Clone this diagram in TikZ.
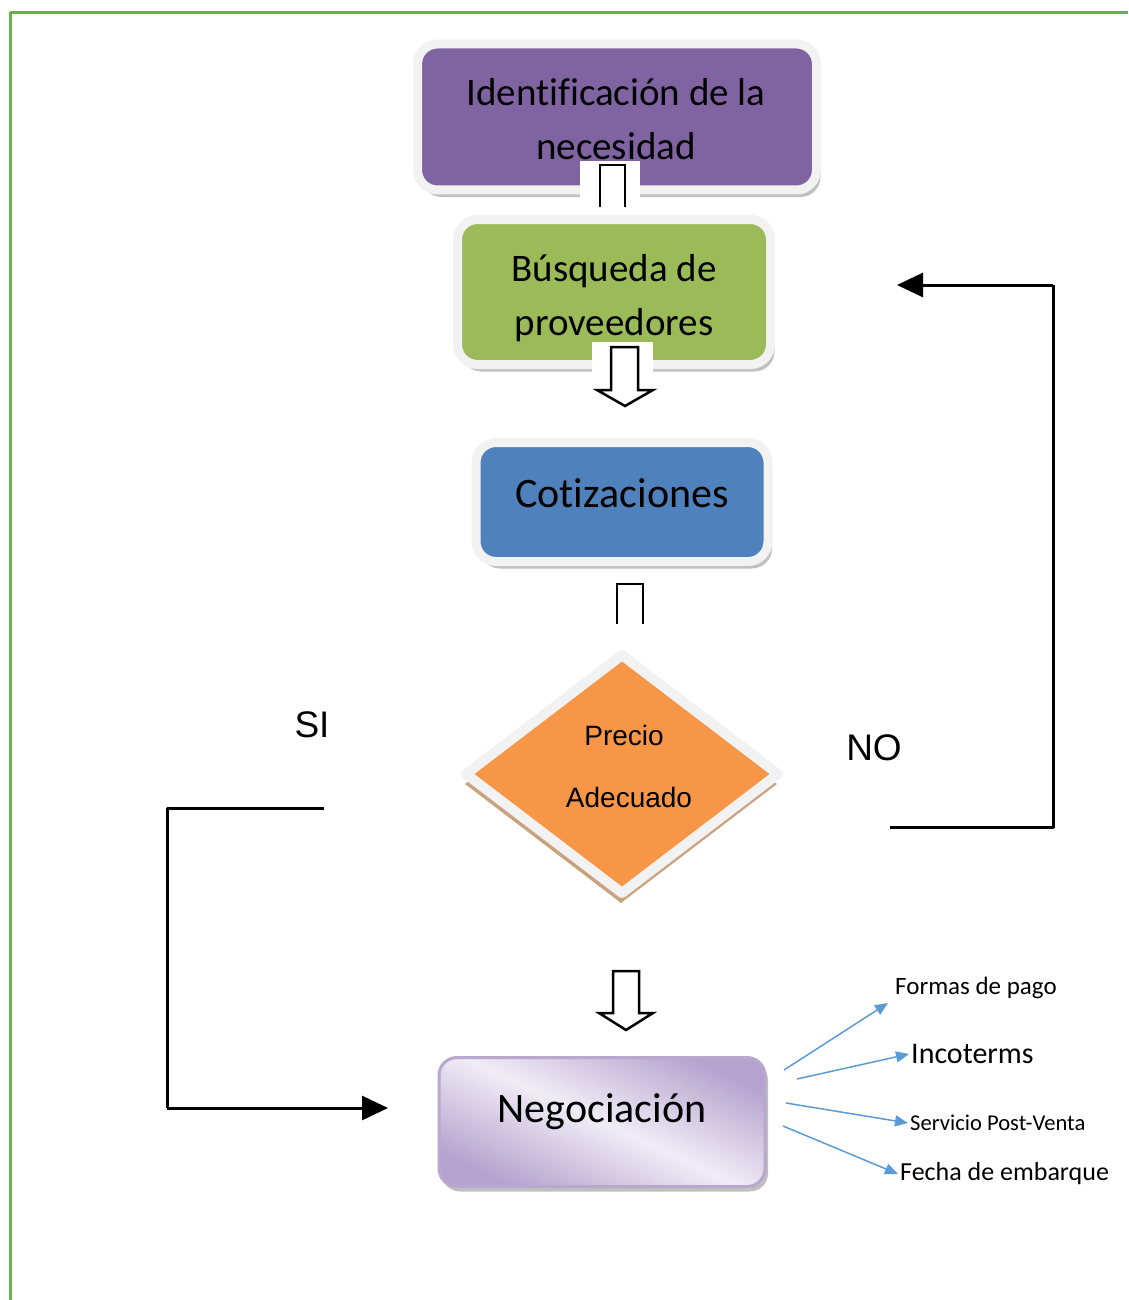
\documentclass[tikz,border=0pt]{standalone}
\usepackage{fontspec}
\setmainfont{Carlito}[Ligatures=NoCommon]
\newfontfamily\arialfont{Liberation Sans}
\usetikzlibrary{arrows.meta}
\usetikzlibrary{shapes.geometric}
\usetikzlibrary{shadows}
\definecolor{boxpurple}{RGB}{128,100,162}
\definecolor{boxgreen}{RGB}{155,187,89}
\definecolor{boxblue}{RGB}{79,129,189}
\definecolor{boxorange}{RGB}{247,150,70}
\definecolor{rim}{RGB}{242,242,242}
\definecolor{tan}{RGB}{201,162,127}
\definecolor{negoA}{RGB}{181,163,206}
\definecolor{negoB}{RGB}{240,236,246}
\definecolor{negorim}{RGB}{184,168,206}
\definecolor{arrowblue}{RGB}{91,155,213}
\definecolor{framegreen}{RGB}{106,176,76}

\tikzset{
  box/.style={rectangle, rounded corners=20pt, draw=rim, line width=9pt,
    inner sep=0pt, align=center,
    drop shadow={shadow xshift=4pt, shadow yshift=-7pt, fill=black!45, opacity=.55}},
  boxtext/.style={align=center, font=\fontsize{39}{54}\selectfont},
  hollow/.style={draw=black, line width=2.5pt, fill=white, line join=miter},
  loopline/.style={draw=black, line width=3pt},
  tagline/.style={draw=arrowblue, line width=1.5pt,
    -{Triangle[length=13pt,width=11pt]}},
  tag/.style={anchor=west, inner sep=2pt}
}

\begin{document}
\begin{tikzpicture}[line cap=butt,line join=round,>={Triangle[length=26pt,width=24pt]},x=1pt,y=-1pt]
\useasboundingbox (0,0) rectangle (1128,1300);
% frame
\draw[framegreen, line width=3pt] (10,1300) -- (10,13) -- (1128,13);
%
\node[box, fill=boxpurple, minimum width=399pt, minimum height=146pt] (ident) at (617,117) {};
\node[boxtext] (identtxt) at (616,119) {Identificación de la\\necesidad};
\node[box, fill=boxgreen, minimum width=313pt, minimum height=145pt] (busq) at (614,292) {};
\node[boxtext] (busqtxt) at (614,298) {Búsqueda de\\proveedores};
\node[box, fill=boxblue, minimum width=292pt, minimum height=119pt, text height=30pt, text depth=20pt,
  font=\fontsize{42}{50}\selectfont] (coti) at (622,502) {Cotizaciones};
%
\node[diamond, draw=rim, line width=10pt, fill=boxorange, inner sep=0pt,
  minimum width=316pt, minimum height=242pt,
  drop shadow={shadow xshift=-1pt, shadow yshift=-10pt, fill=tan, opacity=1}] (prec) at (622,774) {};
\node[font=\arialfont\fontsize{28}{62}\selectfont, align=center] (prectxt) at (624,766) {Precio\\\hspace*{10pt}Adecuado};
%
\node[rectangle, rounded corners=18pt, draw=negorim, line width=3pt,
  top color=negoA, bottom color=negoA, middle color=negoB, shading angle=-25,
  minimum width=326pt, minimum height=129pt, text height=25pt, text depth=25pt,
  font=\fontsize{42}{50}\selectfont,
  drop shadow={shadow xshift=3pt, shadow yshift=-5pt, fill=black!45, opacity=.55}] (nego) at (602,1122) {Negociación};
%
% block arrows
\fill[white] (580,161) rectangle (640,207);
\draw[hollow, fill=none] (600,207) -- (600,165) -- (625,165) -- (625,207);
\fill[white] (592,342) rectangle (653,374);
\draw[hollow] (611,347) -- (638,347) -- (638,390) -- (653,390) -- (625,406) -- (597,390) -- (611,390) -- cycle;
\draw[hollow, fill=none] (617,624) -- (617,584) -- (643,584) -- (643,624);
\draw[hollow] (613,971) -- (639,971) -- (639,1013) -- (653,1013) -- (626,1030) -- (599,1013) -- (613,1013) -- cycle;
%
% SI / NO
\node[font=\arialfont\fontsize{37}{44}\selectfont] (si) at (312,725) {SI};
\node[font=\arialfont\fontsize{37}{44}\selectfont] (no) at (874,748) {NO};
\coordinate (siA) at (324,808);
\coordinate (siB) at (167,808);
\coordinate (siC) at (167,1108);
\coordinate (siD) at (388,1108);
\draw[loopline] (siA) -- (siB) -- (siC);
\draw[loopline,->] (siC) -- (siD);
\coordinate (noA) at (890,827);
\coordinate (noB) at (1053,827);
\coordinate (noC) at (1053,285);
\coordinate (noD) at (897,285);
\draw[loopline] (noA) -- (noB) -- (noC);
\draw[loopline,->] (noC) -- (noD);
%
% negotiation points
\node[tag, font=\fontsize{25}{30}\selectfont] (pago) at (893,988) {Formas de pago};
\node[tag, font=\fontsize{30}{36}\selectfont] (inco) at (909,1054) {Incoterms};
\node[tag, font=\fontsize{22.6}{27}\selectfont] (post) at (908,1123) {Servicio Post-Venta};
\node[tag, font=\fontsize{26}{31}\selectfont] (fecha) at (898,1174) {Fecha de embarque};
\coordinate (n1) at (784,1070);
\coordinate (n2) at (797,1079);
\coordinate (n3) at (786,1103);
\coordinate (n4) at (783,1126);
\draw[tagline] (n1) -- (888,1003);
\draw[tagline] (n2) -- (inco.west);
\draw[tagline] (n3) -- (post.west);
\draw[tagline] (n4) -- (fecha.west);
\end{tikzpicture}
\end{document}
